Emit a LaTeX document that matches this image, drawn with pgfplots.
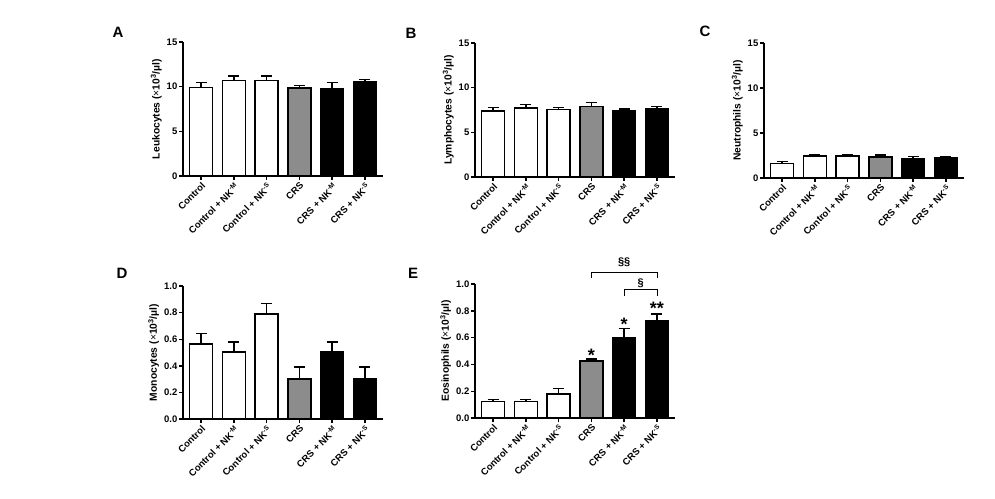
\documentclass[border=0pt]{standalone}
\usepackage{pgfplots}
\pgfplotsset{compat=1.18}
\usepackage{fontspec}
\setmainfont{Liberation Sans}

\definecolor{crsgray}{RGB}{140,140,140}

\pgfplotsset{
  panel/.style={
    anchor=south west,
    scale only axis,
    width=200pt,
    ybar,
    bar width=23pt,
    axis lines=left,
    axis line style={-, line width=1.4pt},
    tick align=outside,
    major tick length=4pt,
    tick style={line width=1.4pt, black},
    xmin=-0.55, xmax=5.55,
    ymin=0,
    enlargelimits=false,
    clip=false,
    xtick={0,1,2,3,4,5},
    xticklabels={Control, Control + NK\textsuperscript{-M}, Control + NK\textsuperscript{-S},
      CRS, CRS + NK\textsuperscript{-M}, CRS + NK\textsuperscript{-S}},
    xticklabel style={rotate=45, anchor=north east, inner sep=1pt,
      font=\bfseries\fontsize{9.5}{10}\selectfont},
    yticklabel style={font=\bfseries\fontsize{9.5}{10}\selectfont, inner sep=1.5pt},
    /pgf/number format/assume math mode=true,
    ylabel style={font=\bfseries\fontsize{10.3}{11}\selectfont},
    every axis plot/.append style={
      bar shift=0pt, draw=black, line width=1.6pt,
      error bars/y dir=plus, error bars/y explicit,
      error bars/error bar style={line width=1.4pt, black},
      error bars/error mark options={rotate=90, mark size=5.5pt, line width=1.4pt, black}},
  },
  big/.style={ymax=15, ytick={0,5,10,15}},
  small/.style={ymax=1.0, ytick={0,0.2,0.4,0.6,0.8,1.0},
    yticklabel style={/pgf/number format/.cd, fixed, fixed zerofill, precision=1}},
}

\newcommand{\unit}{({\mdseries ×}10\textsuperscript{3}/µl)}

\begin{document}
\begin{tikzpicture}
\path[use as bounding box] (0pt,0pt) rectangle (995pt,498pt);

\node[font=\bfseries\fontsize{15}{16}\selectfont] at (118pt,466pt) {A};
\node[font=\bfseries\fontsize{15}{16}\selectfont] at (411pt,465pt) {B};
\node[font=\bfseries\fontsize{15}{16}\selectfont] at (705pt,467pt) {C};
\node[font=\bfseries\fontsize{15}{16}\selectfont] at (122pt,225pt) {D};
\node[font=\bfseries\fontsize{15}{16}\selectfont] at (413pt,225pt) {E};

% A
\begin{axis}[panel, big, at={(183pt,322pt)}, height=134pt, ylabel={Leukocytes \unit}]
\addplot[fill=white] coordinates {(0,9.9) +- (0,0.55) (1,10.7) +- (0,0.5) (2,10.7) +- (0,0.5)};
\addplot[fill=crsgray] coordinates {(3,9.85) +- (0,0.3)};
\addplot[fill=black] coordinates {(4,9.8) +- (0,0.65) (5,10.5) +- (0,0.3)};
\end{axis}

% B
\begin{axis}[panel, big, at={(475pt,321pt)}, height=134pt, ylabel={Lymphocytes \unit}]
\addplot[fill=white] coordinates {(0,7.39) +- (0,0.37) (1,7.72) +- (0,0.38) (2,7.54) +- (0,0.22)};
\addplot[fill=crsgray] coordinates {(3,7.9) +- (0,0.46)};
\addplot[fill=black] coordinates {(4,7.46) +- (0,0.14) (5,7.65) +- (0,0.25)};
\end{axis}

% C
\begin{axis}[panel, big, at={(764pt,320pt)}, height=135pt, ylabel={Neutrophils \unit}]
\addplot[fill=white] coordinates {(0,1.62) +- (0,0.19) (1,2.45) +- (0,0.19) (2,2.45) +- (0,0.12)};
\addplot[fill=crsgray] coordinates {(3,2.3) +- (0,0.27)};
\addplot[fill=black] coordinates {(4,2.11) +- (0,0.27) (5,2.23) +- (0,0.11)};
\end{axis}

% D
\begin{axis}[panel, small, at={(183pt,79pt)}, height=133pt, ylabel={Monocytes \unit}]
\addplot[fill=white] coordinates {(0,0.565) +- (0,0.08) (1,0.505) +- (0,0.075) (2,0.79) +- (0,0.078)};
\addplot[fill=crsgray] coordinates {(3,0.30) +- (0,0.09)};
\addplot[fill=black] coordinates {(4,0.505) +- (0,0.073) (5,0.30) +- (0,0.09)};
\end{axis}

% E
\begin{axis}[panel, small, at={(475pt,80pt)}, height=134pt, ylabel={Eosinophils \unit}]
\addplot[fill=white] coordinates {(0,0.122) +- (0,0.018) (1,0.122) +- (0,0.018) (2,0.18) +- (0,0.04)};
\addplot[fill=crsgray] coordinates {(3,0.427) +- (0,0.013)};
\addplot[fill=black] coordinates {(4,0.60) +- (0,0.07) (5,0.728) +- (0,0.048)};
\node[font=\bfseries\fontsize{18}{18}\selectfont] at (axis cs:3,0.47) {*};
\node[font=\bfseries\fontsize{18}{18}\selectfont] at (axis cs:4,0.70) {*};
\node[font=\bfseries\fontsize{18}{18}\selectfont] at (axis cs:5,0.82) {**};
\draw[line width=0.8pt] (axis cs:4,0.91) -- (axis cs:4,0.963) -- (axis cs:5,0.963) -- (axis cs:5,0.91);
\node[font=\bfseries\fontsize{11}{11}\selectfont] at (axis cs:4.5,1.007) {§};
\draw[line width=0.8pt] (axis cs:3,1.045) -- (axis cs:3,1.09) -- (axis cs:5,1.09) -- (axis cs:5,1.045);
\node[font=\bfseries\fontsize{11}{11}\selectfont] at (axis cs:4,1.164) {§§};
\end{axis}
\end{tikzpicture}
\end{document}
